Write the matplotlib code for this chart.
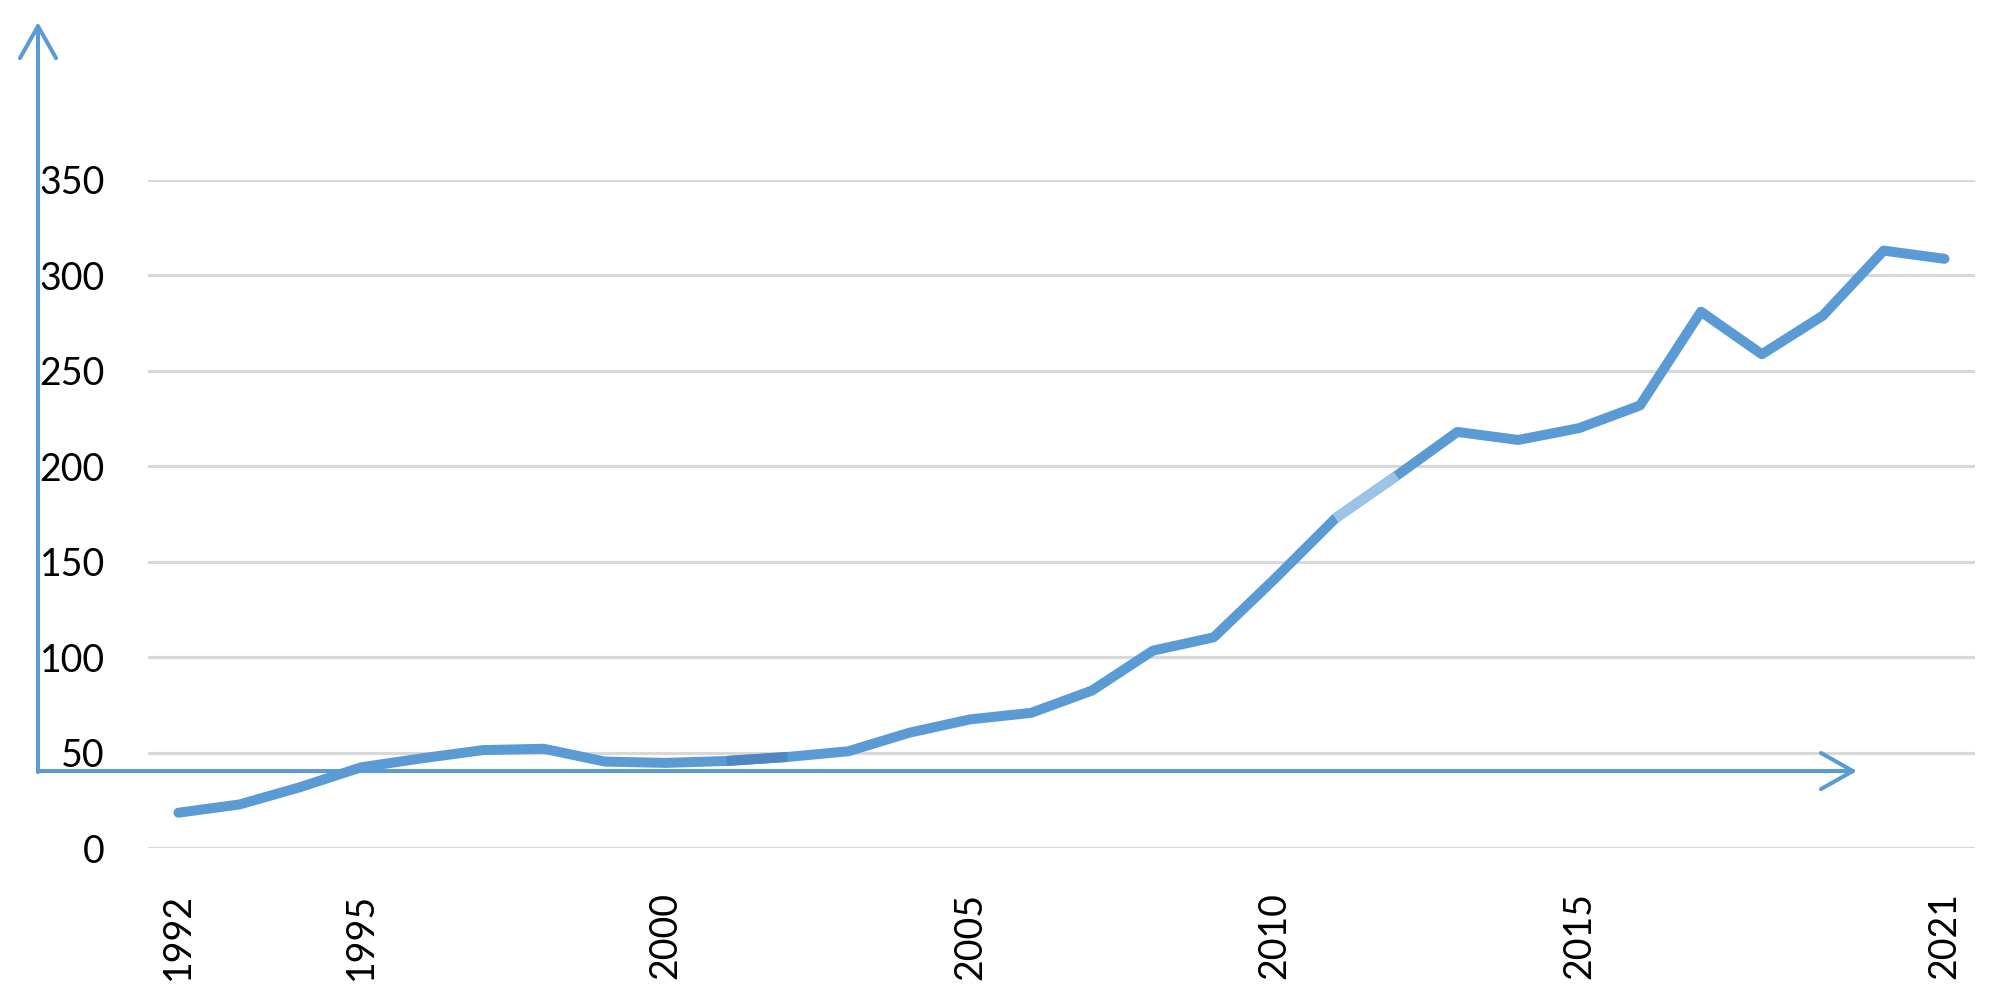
import matplotlib.pyplot as plt
from matplotlib.patches import FancyArrowPatch

years = list(range(1992, 2022))
values = [18.5, 22.8, 31.9, 42.3, 47, 51.3, 52, 45.3, 44.6, 45.6,
          47.7, 50.7, 60.4, 67.4, 70.8, 82.5, 103.4, 110.4, 141, 172.8,
          195, 218, 213.8, 220, 231.9, 281, 258.7, 278.9, 313, 308.7]
x_labels = [1992, 1995, 2000, 2005, 2010, 2015, 2021]
y_ticks = [0, 50, 100, 150, 200, 250, 300, 350]

blue = '#5B9BD5'
# a couple of segments are drawn in another shade in the original
segment_colors = {2001: '#4F87C2', 2011: '#9DC3E6'}

plt.rcParams['font.family'] = ['Lato', 'DejaVu Sans']

fig = plt.figure(figsize=(20, 10.05), dpi=100)
ax = fig.add_axes([0.074, 0.1562, 0.9135, 0.6647])

ax.plot(years, values, color=blue, linewidth=7.2,
        solid_capstyle='round', solid_joinstyle='round', zorder=3)
for start, col in segment_colors.items():
    i = years.index(start)
    ax.plot(years[i:i + 2], values[i:i + 2], color=col, linewidth=7.2,
            solid_capstyle='butt', zorder=4)

ax.set_xlim(1991.5, 2021.5)
ax.set_ylim(0, 350)
ax.set_yticks(y_ticks)
ax.set_xticks(x_labels)
ax.set_xticklabels([str(y) for y in x_labels], rotation=90, va='top')
ax.tick_params(axis='y', length=0, pad=31, labelsize=27)
ax.tick_params(axis='x', length=0, pad=32, labelsize=27)
ax.grid(axis='y', color='#D9D9D9', linewidth=2.3)
ax.set_axisbelow(True)
for s in ax.spines.values():
    s.set_visible(False)

# hand-drawn axis arrows
for a, b in [((0.019, 0.2318), (0.019, 0.978)), ((0.019, 0.2328), (0.9285, 0.2328))]:
    arr = FancyArrowPatch(a, b, transform=fig.transFigure,
                          arrowstyle='->,head_length=23,head_width=13',
                          mutation_scale=1, color=blue, linewidth=2.9,
                          shrinkA=0, shrinkB=0, zorder=5)
    fig.add_artist(arr)

plt.savefig('out.png', dpi=100)
